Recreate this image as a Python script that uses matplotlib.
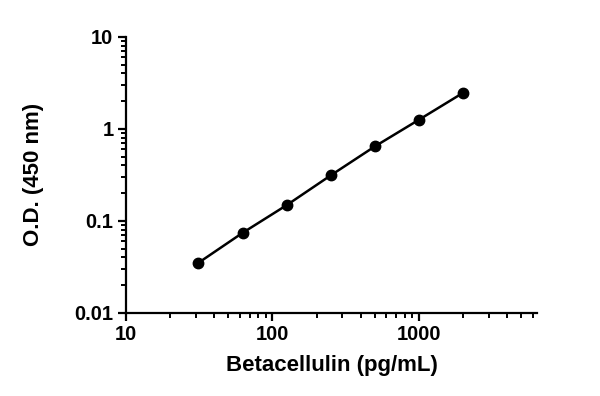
import matplotlib
matplotlib.use('Agg')
import matplotlib.pyplot as plt
from matplotlib.ticker import LogLocator, FixedLocator, FixedFormatter

conc = [31.25, 62.5, 125, 250, 500, 1000, 2000]
od = [0.035, 0.074, 0.148, 0.312, 0.644, 1.255, 2.46]

xticks = [10, 100, 1000]
xlabels = ['10', '100', '1000']
yticks = [0.01, 0.1, 1, 10]
ylabels = ['0.01', '0.1', '1', '10']

plt.rcParams['font.family'] = ['Liberation Sans', 'DejaVu Sans']
plt.rcParams['font.weight'] = 'bold'

fig = plt.figure(figsize=(6, 3.96), dpi=100)
ax = fig.add_axes([0.21, 0.21, 0.685, 0.697])

ax.plot(conc, od, '-', color='black', lw=1.8)
ax.plot(conc, od, 'o', color='black', ms=7.5)

ax.set_xscale('log')
ax.set_yscale('log')
ax.set_xlim(10, 6400)
ax.set_ylim(0.01, 10)

ax.xaxis.set_major_locator(FixedLocator(xticks))
ax.xaxis.set_major_formatter(FixedFormatter(xlabels))
ax.yaxis.set_major_locator(FixedLocator(yticks))
ax.yaxis.set_major_formatter(FixedFormatter(ylabels))
ax.xaxis.set_minor_locator(LogLocator(base=10, subs=range(2, 10)))
ax.yaxis.set_minor_locator(LogLocator(base=10, subs=range(2, 10)))

for s in ['top', 'right']:
    ax.spines[s].set_visible(False)
for s in ['left', 'bottom']:
    ax.spines[s].set_linewidth(1.6)

ax.tick_params(which='major', length=6, width=1.6, labelsize=14.5, pad=3)
ax.tick_params(which='minor', length=3.5, width=1.4)

ax.set_xlabel('Betacellulin (pg/mL)', fontsize=16, fontweight='bold')
ax.set_ylabel('O.D. (450 nm)', fontsize=16, fontweight='bold')
ax.xaxis.set_label_coords(0.5, -0.152)
ax.yaxis.set_label_coords(-0.199, 0.5)

fig.savefig('out.png', dpi=100)
